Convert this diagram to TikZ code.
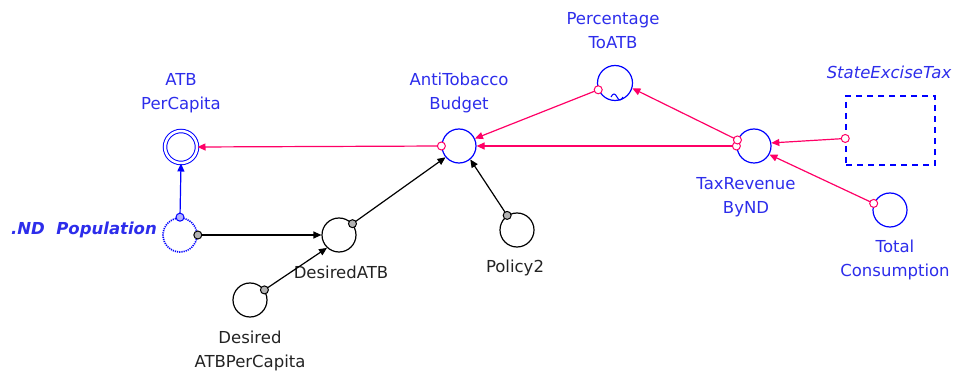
\documentclass[tikz,border=0pt]{standalone}
\usepackage{fontspec}
\setmainfont{DejaVu Sans}
\usetikzlibrary{arrows.meta}
\definecolor{pk}{RGB}{255,0,102}
\definecolor{bl}{RGB}{0,0,255}
\definecolor{tb}{RGB}{45,45,235}
\definecolor{dk}{RGB}{35,35,35}
\begin{document}
\begin{tikzpicture}[x=1pt,y=-1pt,
 var/.style={circle, draw, line width=1.2pt, inner sep=0pt, minimum size=34pt},
 lab/.style={font=\fontsize{16.5}{24}\selectfont, align=center, inner sep=0pt, text=tb},
 dlab/.style={lab, text=dk},
 conn/.style={line width=1.2pt, -{Triangle[length=8pt,width=7pt]}},
 mk/.style={circle, draw, fill=white, line width=1pt, inner sep=0pt, minimum size=8pt},
 bmk/.style={mk, draw=black, fill=black!30},
 ]
\useasboundingbox (0,0) rectangle (954,374);
% variables
\node[var, draw=bl, double=white, double distance=2.5pt, line width=1pt, minimum size=32pt] (atb) at (181,147) {};
\node[var, draw=bl, densely dotted, line width=1.6pt] (pop) at (180,235) {};
\node[var, draw=black] (dat) at (339,235) {};
\node[var, draw=black] (datp) at (250,300) {};
\node[var, draw=bl] (ab) at (459,146) {};
\node[var, draw=black] (pol) at (517,230) {};
\node[var, draw=bl, minimum size=35pt] (pct) at (615,83) {};
\node[var, draw=bl] (tax) at (754,146) {};
\node[var, draw=bl] (tc) at (890,210) {};
\node[draw=bl, line width=1.5pt, dash pattern=on 6pt off 5pt, minimum width=89pt, minimum height=69pt, inner sep=0pt] (set) at (890.5,130.5) {};
\draw[bl, line width=1pt] (611,97) .. controls (613,93) and (615,93) .. (617,97) .. controls (619,101) and (621,101) .. (623,97);
% labels
\node[lab] (latb) at (181,93) {ATB\\PerCapita};
\node[lab, anchor=east, font=\fontsize{16.5}{24}\selectfont\bfseries\itshape] (lpop) at (157,230) {.ND\ \ Population};
\node[lab] (lab) at (459,93) {AntiTobacco\\Budget};
\node[lab] (lpct) at (613,31) {Percentage\\ToATB};
\node[lab] (ltax) at (746,197) {TaxRevenue\\ByND};
\node[lab, font=\fontsize{16.5}{24}\selectfont\itshape] (lset) at (889,72) {StateExciseTax};
\node[lab] (ltc) at (895,260) {Total\\Consumption};
\node[dlab] (ldat) at (341,272) {DesiredATB};
\node[dlab] (ldatp) at (250,351) {Desired\\ATBPerCapita};
\node[dlab] (lpol) at (515,268) {Policy2};
% connectors
\draw[conn, pk] (ab.180) -- (atb.0);
\draw[conn, pk] (tax.180) -- (ab.0);
\draw[conn, pk] (tax.160) -- (pct.-17);
\draw[conn, pk] (pct.202) -- (ab.25);
\draw[conn, pk] (set.190) -- (tax.10);
\draw[conn, pk] (tc.158) -- (tax.-29);
\draw[conn, bl] (pop.90) -- (atb.270);
\draw[conn, black] (pop.0) -- (dat.180);
\draw[conn, black] (datp.35) -- (dat.227);
\draw[conn, black] (dat.40) -- (ab.220);
\draw[conn, black] (pol.124) -- (ab.-50);
% start markers
\node[mk, draw=pk] (m1) at (ab.180) {};
\node[mk, draw=pk] (m2) at (tax.180) {};
\node[mk, draw=pk] (m3) at (tax.160) {};
\node[mk, draw=pk] (m4) at (pct.202) {};
\node[mk, draw=pk] (m5) at (set.190) {};
\node[mk, draw=pk] (m6) at (tc.158) {};
\node[mk, draw=bl, fill=bl!30] (m7) at (pop.90) {};
\node[bmk] (m8) at (pop.0) {};
\node[bmk] (m9) at (datp.35) {};
\node[bmk] (m10) at (dat.40) {};
\node[bmk] (m11) at (pol.124) {};
\end{tikzpicture}
\end{document}
